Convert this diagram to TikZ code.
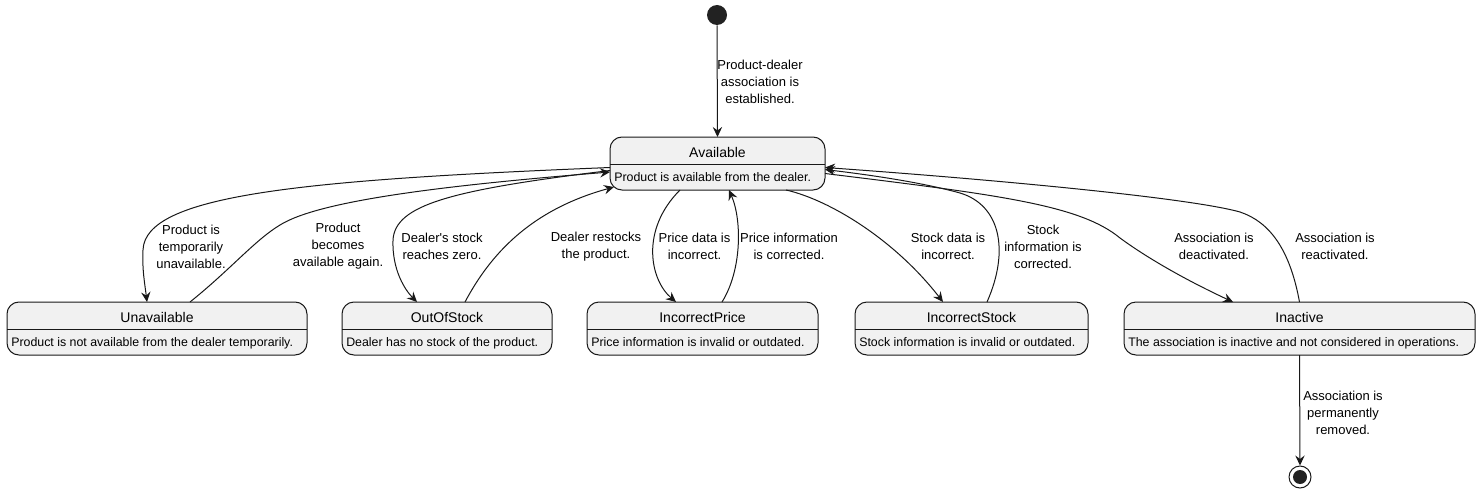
\documentclass[tikz,border=0pt]{standalone}
\usepackage{fontspec}
\setmainfont{Liberation Sans}[Ligatures=TeXOff]
\usetikzlibrary{arrows.meta,calc}
\definecolor{boxfill}{HTML}{F1F1F1}
\definecolor{ink}{HTML}{181818}
\definecolor{dot}{HTML}{222222}
\tikzset{
  sbox/.style={draw=ink, fill=boxfill, rounded corners=9pt, line width=0.75pt, inner sep=0pt, outer sep=0pt},
  stitle/.style={font=\fontsize{10.5}{12}\selectfont, inner sep=0pt, anchor=base},
  sdesc/.style={font=\fontsize{9.28}{11}\selectfont, inner sep=0pt, anchor=base west},
  lbl/.style={font=\fontsize{9.75}{12.75}\selectfont, align=center, inner sep=0pt},
  edge/.style={draw=ink, line width=0.75pt, -{Stealth[length=7.5pt,width=7pt,inset=2.6pt]}},
  startst/.style={circle, fill=dot, minimum size=15pt, inner sep=0pt},
  endst/.style={circle, draw=ink, line width=0.75pt, minimum size=16.5pt, inner sep=0pt},
  endin/.style={circle, fill=dot, minimum size=10.5pt, inner sep=0pt}
}
\newcommand\mkstate[6]{%
  \node[sbox, minimum width={(#3-#2)*0.75pt}, minimum height={53*0.75pt}] (#1) at ({(#2+#3)/2},{#4+26.5}) {};
  \draw[ink, line width=0.75pt] ($(#1.west)+(0,0.5)$) -- ($(#1.east)+(0,0.5)$);
  \node[stitle] (#1-t) at ({(#2+#3)/2},{#4+20}) {#5};
  \node[sdesc] (#1-d) at ({#2+4},{#4+44.5}) {#6};
}
\begin{document}
\begin{tikzpicture}[x=0.75pt,y=-0.75pt]
\useasboundingbox (0,0) rectangle (1481,492);
% states
\mkstate{avail}{610}{825}{137}{Available}{Product is available from the dealer.}
\mkstate{unav}{7}{307}{302}{Unavailable}{Product is not available from the dealer temporarily.}
\mkstate{oos}{342}{552}{302}{OutOfStock}{Dealer has no stock of the product.}
\mkstate{ip}{587}{818}{302}{IncorrectPrice}{Price information is invalid or outdated.}
\mkstate{is}{855}{1088}{302}{IncorrectStock}{Stock information is invalid or outdated.}
\mkstate{inact}{1124}{1475}{302}{Inactive}{The association is inactive and not considered in operations.}
\node[startst] (start) at (717,15) {};
\node[endst] (end) at (1300,477) {};
\node[endin] (endc) at (end.center) {};
% edges
\draw[edge] (start.south) -- (avail.north);
\draw[edge] ($(avail.west)+(0,4)$) .. controls (300,180) and (145,195) .. (143,250)
  .. controls (142,270) and (145,285) .. ($(unav.north west)+(140,0)$);
\draw[edge] ($(unav.north west)+(183,0)$) .. controls (230,270) and (255,240) .. (280,225)
  .. controls (320,200) and (450,185) .. ($(avail.west)+(0,8.5)$);
\draw[edge] ($(avail.west)+(0,7)$) .. controls (450,190) and (395,205) .. (393,240)
  .. controls (392,270) and (405,290) .. ($(oos.north west)+(75,0)$);
\draw[edge] ($(oos.north west)+(123,0)$) .. controls (490,255) and (530,210) .. ($(avail.south west)+(4,-3)$);
\draw[edge] ($(avail.south west)+(70,0)$) .. controls (640,230) and (650,280) .. ($(ip.north west)+(89,0)$);
\draw[edge] ($(ip.north west)+(135,0)$) .. controls (742,270) and (742,220) .. ($(avail.south west)+(119,0)$);
\draw[edge] ($(avail.south west)+(176,0)$) .. controls (830,200) and (895,240) .. ($(is.north west)+(88,0)$);
\draw[edge] ($(is.north west)+(132,0)$) .. controls (1010,250) and (1000,205) .. (960,193)
  .. controls (920,182) and (870,175) .. ($(avail.east)+(0,6)$);
\draw[edge] ($(avail.east)+(0,10)$) .. controls (1000,195) and (1080,205) .. (1120,238)
  .. controls (1150,260) and (1190,282) .. ($(inact.north west)+(109,0)$);
\draw[edge] (inact.north) .. controls (1290,250) and (1270,222) .. (1240,212)
  .. controls (1190,198) and (1000,180) .. ($(avail.east)+(0,4)$);
\draw[edge] (inact.south) -- (end.north);
% labels
\node[lbl] (l1) at (760,82) {Product-dealer\\association is\\established.};
\node[lbl] (l2) at (191,246.5) {Product is\\temporarily\\unavailable.};
\node[lbl] (l3) at (338,246.5) {Product\\becomes\\available again.};
\node[lbl] (l4) at (442,246.5) {Dealer's stock\\reaches zero.};
\node[lbl] (l5) at (596,246.5) {Dealer restocks\\the product.};
\node[lbl] (l6) at (694.5,246.5) {Price data is\\incorrect.};
\node[lbl] (l7) at (789,246.5) {Price information\\is corrected.};
\node[lbl] (l8) at (948,246.5) {Stock data is\\incorrect.};
\node[lbl] (l9) at (1043,246.5) {Stock\\information is\\corrected.};
\node[lbl] (l10) at (1214,246.5) {Association is\\deactivated.};
\node[lbl] (l11) at (1335,246.5) {Association is\\reactivated.};
\node[lbl] (l12) at (1343,413) {Association is\\permanently\\removed.};
\end{tikzpicture}
\end{document}
